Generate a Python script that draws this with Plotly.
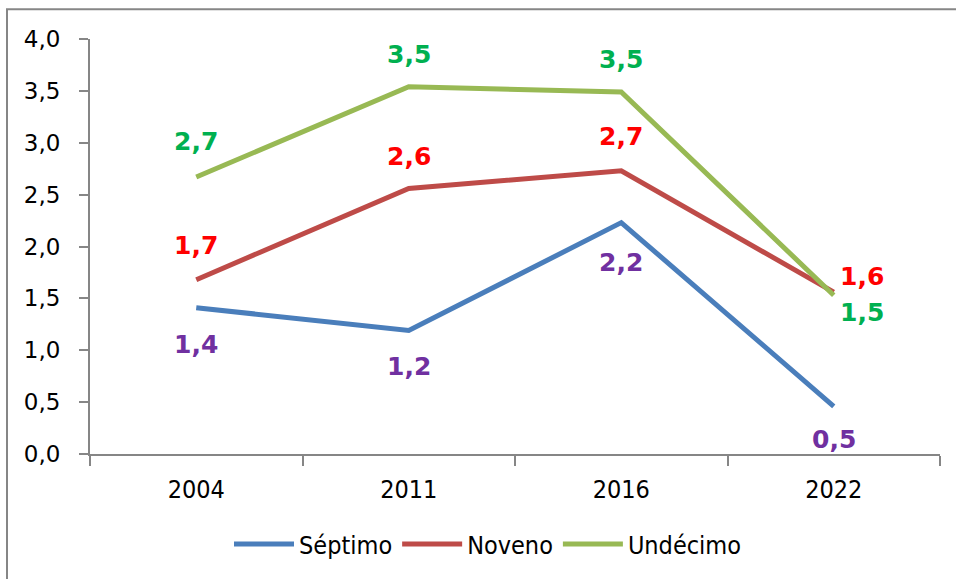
import plotly.graph_objects as go

# Survey years and results per grade
years = ["2004", "2011", "2016", "2022"]
septimo = [1.41, 1.19, 2.23, 0.46]
noveno = [1.68, 2.56, 2.73, 1.56]
undecimo = [2.67, 3.54, 3.49, 1.53]

series_names = ["Séptimo", "Noveno", "Undécimo"]
y_ticks = [0, 0.5, 1.0, 1.5, 2.0, 2.5, 3.0, 3.5, 4.0]

line_colors = ["#4A7EBB", "#BE4B48", "#98B954"]
label_colors = ["#7030A0", "#FF0000", "#00B050"]

# label offsets (xshift, yshift) in pixels for each series / year
label_offsets = [
    [(0, -37), (0, -36), (0, -40), (0, -33)],
    [(0, 34), (0, 32), (0, 34), (28, 16)],
    [(0, 35), (0, 32), (0, 32), (28, -17)],
]

fig = go.Figure()
all_series = [septimo, noveno, undecimo]
for name, vals, col in zip(series_names, all_series, line_colors):
    fig.add_trace(go.Scatter(
        x=years, y=vals, name=name, mode="lines",
        line=dict(color=col, width=5),
    ))

annotations = []
for vals, col, offs in zip(all_series, label_colors, label_offsets):
    for idx, (v, (dx, dy)) in enumerate(zip(vals, offs)):
        annotations.append(dict(
            x=idx, y=v, xref="x", yref="y",
            text="<b>" + f"{v:.1f}".replace(".", ",") + "</b>",
            showarrow=False, xshift=dx, yshift=dy,
            font=dict(family="DejaVu Sans", size=25, color=col),
            xanchor="center", yanchor="middle",
        ))

# plot area geometry in pixels
W, H = 956, 579
L, R, T, B = 90, 16, 39, 121
pw, ph = W - L - R, H - T - B

def px_x(p):
    return (p - L) / pw

def px_y(p):
    return (H - B - p) / ph

shapes = [dict(
    type="rect", xref="paper", yref="paper",
    x0=px_x(7), x1=px_x(970), y0=px_y(600), y1=px_y(9),
    line=dict(color="#868686", width=2), fillcolor="rgba(0,0,0,0)",
    layer="below",
)]

fig.update_layout(
    width=W, height=H,
    margin=dict(l=L, r=R, t=T, b=B),
    paper_bgcolor="white", plot_bgcolor="white",
    separators=",.",
    showlegend=True,
    legend=dict(
        orientation="h", x=px_x(488), xanchor="center",
        y=px_y(549), yanchor="middle",
        font=dict(family="DejaVu Sans Condensed", size=25, color="#000000"),
        itemwidth=60, tracegroupgap=0,
    ),
    annotations=annotations,
    shapes=shapes,
    xaxis=dict(
        type="category", categoryorder="array", categoryarray=years,
        range=[-0.5, 3.5],
        showline=True, linecolor="#868686", linewidth=2,
        ticks="outside", tickson="boundaries", ticklen=10,
        tickcolor="#868686", tickwidth=2,
        showgrid=False, zeroline=False,
        tickfont=dict(family="DejaVu Sans Condensed", size=25, color="#000000"),
        ticklabelstandoff=12,
    ),
    yaxis=dict(
        range=[0, 4], tickvals=y_ticks, tickformat=".1f",
        showline=True, linecolor="#868686", linewidth=2,
        ticks="outside", ticklen=9, tickcolor="#868686", tickwidth=2,
        showgrid=False, zeroline=False,
        tickfont=dict(family="DejaVu Sans", size=23, color="#000000"),
        ticklabelstandoff=14,
    ),
)

fig.write_html("out.html")
